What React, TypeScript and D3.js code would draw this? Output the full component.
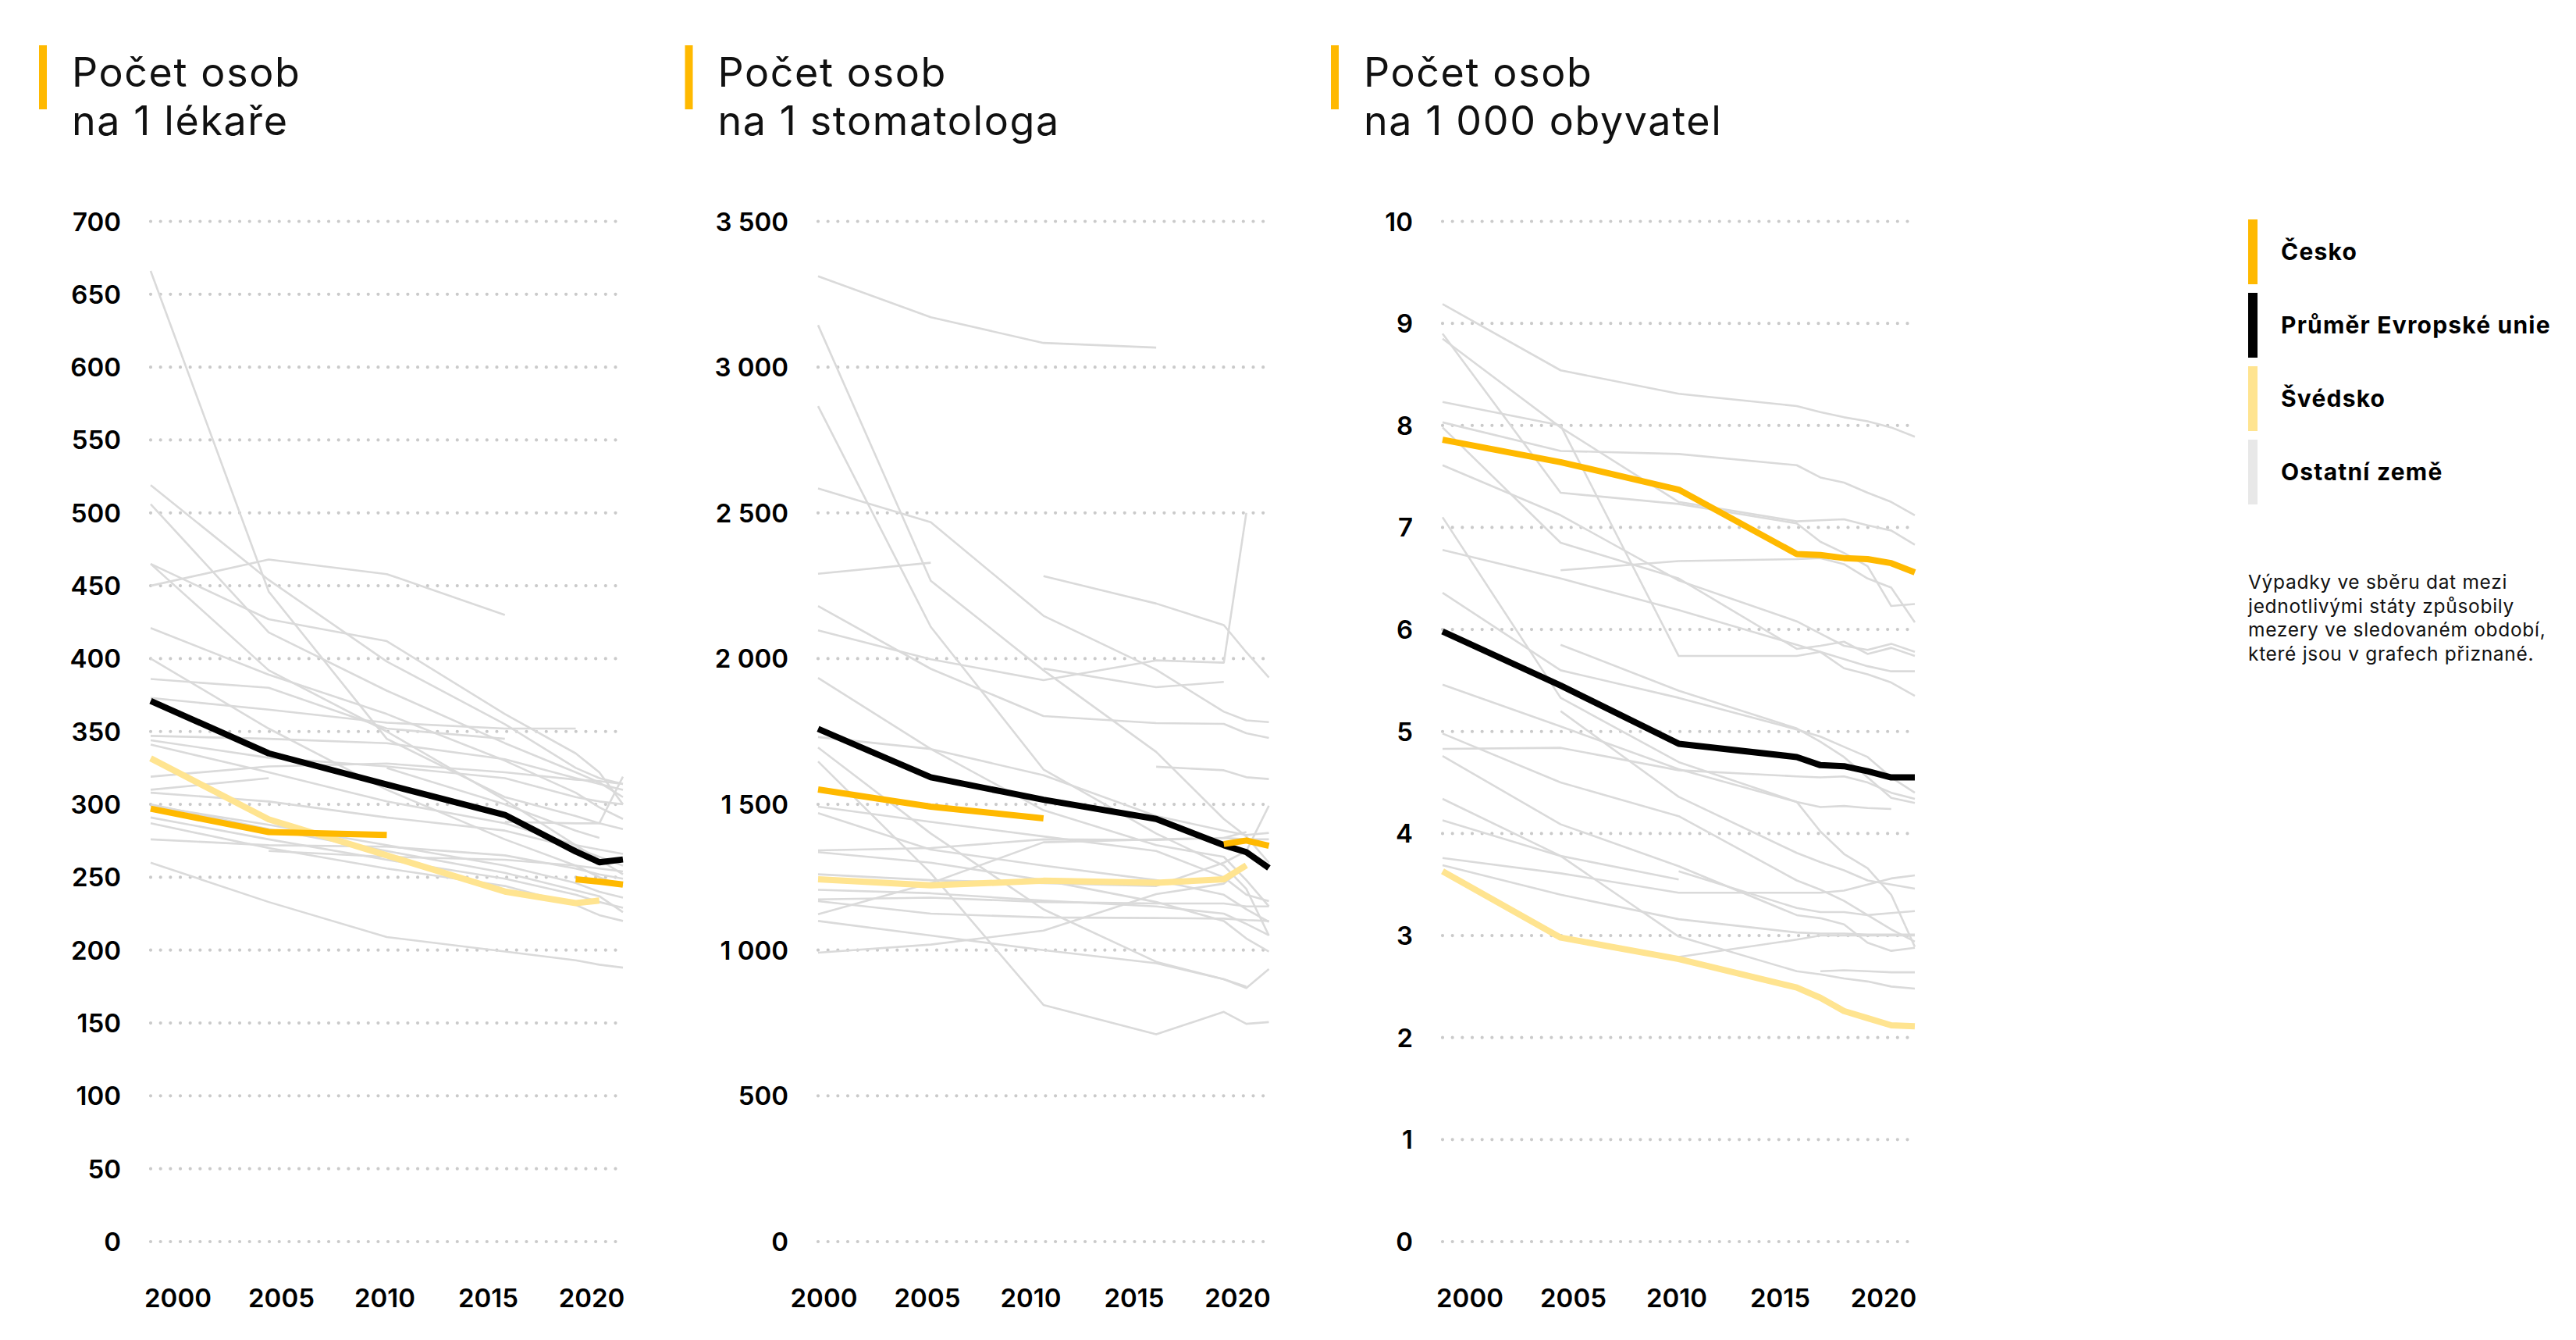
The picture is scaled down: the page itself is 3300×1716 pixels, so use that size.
import React from "react";
import * as d3 from "d3";

// ---------- DATA ----------
const YEARS = [2000, 2005, 2010, 2015, 2018, 2019, 2020];
const YEARS_BEDS = [2000, 2005, 2010, 2015, 2016, 2017, 2018, 2019, 2020];
const X_TICK_LABELS = ["2000", "2005", "2010", "2015", "2020"];

const DOCTOR_TICKS = [0, 50, 100, 150, 200, 250, 300, 350, 400, 450, 500, 550, 600, 650, 700];
const DENTIST_TICKS = [0, 500, 1000, 1500, 2000, 2500, 3000, 3500];
const BEDS_TICKS = [0, 1, 2, 3, 4, 5, 6, 7, 8, 9, 10];

const DOCTORS_CZ = [297, 281, 279, null, 248.6, 247, 245];
const DOCTORS_EU = [371, 335, 313.6, 292.8, 267.7, 260.3, 262.2];
const DOCTORS_SE = [331.6, 289.7, 265, 240.2, 232.3, 234, null];
const DOCTORS_OTHERS = [
  [666, 446, 345, 305, 292, 287, 283],
  [519, 454, 398, 355, 325, 318, 314],
  [506, 418, 378, 342, 322, 315, 305],
  [465, 427, 412, 362, 335, 322, 300],
  [450, 468, 458, 430, null, null, null],
  [465, 392, 350, 303, 272, 262, 252],
  [421, 389, 362, 330, 308, 298, 290],
  [400, 352, 310, 276, 258, 250, 244],
  [386, 380, 352, 345, null, null, null],
  [373, 365, 356, 352, 352, null, null],
  [347, 345, 342, 331, 318, 314, 310],
  [344, 332, 326, 318, 305, 302, 300],
  [341, 322, 302, 287, 272, 269, 266],
  [319, 326, 328, 322, 317, 316, 314],
  [310, 318, null, null, null, null, null],
  [308, 302, 291, 282, 270, 264, 258],
  [291, 276, 262, 249, 238, 233, 229],
  [287, 270, 256, 244, 231, 224, 220],
  [276, 272, 271, 265, 256, 252, 249],
  [260, 233, 209, 199, 193, 190, 188],
  [null, null, 325, 300, 282, 277, null],
  [null, null, null, 288, 287, 287, 319],
  [300, 283, 268, 253, 241, 237, 226],
  [null, 268, 264, 262, 258, 256, 254],
  [299, 286, 272, 258, 246, 240, 236],
];

const DENTISTS_CZ = [1551, 1492, 1452, null, 1364, 1376, 1358];
const DENTISTS_EU = [1759, 1593, 1516, 1450, 1360, 1336, 1282];
const DENTISTS_SE = [1243, 1222, 1238, 1231, 1243, 1291, null];
const DENTISTS_OTHERS = [
  [3312, 3171, 3083, 3067, null, null, null],
  [3144, 2267, 1960, 1680, 1450, 1390, 1300],
  [2866, 2109, 1620, 1400, 1290, 1210, 1050],
  [2584, 2468, 2147, 1962, 1818, 1788, 1782],
  [2291, 2329, null, null, null, null, null],
  [null, null, 2283, 2189, 2115, 2022, 1935],
  [2180, 1965, 1803, 1779, 1776, 1744, 1728],
  [2097, 1998, 1926, 1994, 1986, 2500, null],
  [null, null, 1966, 1902, 1920, null, null],
  [1934, 1690, 1480, 1360, 1320, 1240, 1150],
  [1731, 1690, 1600, 1460, 1410, 1395, 1402],
  [1695, 1400, 1140, 960, 900, 870, 935],
  [1647, 1264, 812, 711, 788, 747, 753],
  [1492, 1440, 1390, 1340, 1250, 1190, 1168],
  [1470, 1345, 1290, 1240, 1190, 1140, 1097],
  [1342, 1350, 1380, 1378, 1385, 1405, null],
  [1336, 1300, 1240, 1165, 1100, 1040, 995],
  [1207, 1195, 1170, 1150, 1125, 1090, 1051],
  [1174, 1180, 1165, 1160, 1160, 1150, 1150],
  [1168, 1125, 1112, 1110, 1108, 1103, 1100],
  [991, 1019, 1067, 1192, 1228, 1290, null],
  [1123, 1230, 1370, 1380, 1385, 1380, 1380],
  [null, null, null, 1629, 1617, 1593, 1587],
  [1100, 1050, 1000, 955, 900, 875, null],
  [1260, 1240, 1230, 1220, 1300, 1340, 1495],
];

const BEDS_CZ = [7.86, 7.64, 7.37, 6.74, 6.73, 6.7, 6.69, 6.65, 6.56];
const BEDS_EU = [5.98, 5.45, 4.88, 4.75, 4.67, 4.66, 4.61, 4.55, 4.55];
const BEDS_SE = [3.63, 2.98, 2.77, 2.49, 2.39, 2.26, 2.19, 2.12, 2.11];
const BEDS_OTHERS = [
  [9.19, 8.54, 8.31, 8.19, 8.13, 8.08, 8.04, 7.98, 7.89],
  [8.9, 7.34, 7.23, 7.04, 6.86, 6.75, 6.62, 6.23, 6.25],
  [8.85, 7.98, 7.25, 7.06, 7.07, 7.08, 7.02, 6.97, 6.83],
  [8.03, 7.75, 7.72, 7.61, 7.49, 7.44, 7.34, 7.25, 7.12],
  [8.23, 8.0, 5.74, 5.74, 5.78, 5.62, 5.56, 5.48, 5.35],
  [7.98, 6.85, 6.5, 5.81, 5.84, 5.88, 5.76, 5.82, 5.74],
  [7.61, 7.12, 6.48, 6.08, 5.96, 5.84, 5.8, 5.86, 5.78],
  [null, 6.58, 6.67, 6.69, 6.7, 6.64, 6.5, 6.41, 6.07],
  [6.78, 6.5, 6.19, 5.85, 5.78, 5.71, 5.64, 5.59, 5.59],
  [7.1, 5.33, 4.7, 4.31, 4.02, 3.8, 3.66, 3.4, 2.89],
  [6.36, 5.6, 5.33, 5.02, 4.95, 4.85, 4.75, 4.55, 4.4],
  [null, 5.85, 5.4, 5.03, 4.9, 4.75, 4.55, 4.35, 4.3],
  [5.46, 5.05, 4.63, 4.31, 4.26, 4.27, 4.25, 4.24, null],
  [4.98, 4.5, 4.17, 3.54, 3.45, 3.34, 3.2, 3.06, 2.94],
  [4.83, 4.84, 4.62, 4.56, 4.55, 4.56, 4.5, 4.4, 4.34],
  [4.76, 4.09, 3.68, 3.2, 3.17, 3.11, 2.93, 2.85, 2.88],
  [4.34, 3.78, 2.99, 2.65, 2.62, 2.58, 2.55, 2.5, 2.48],
  [4.13, 3.78, 3.55, null, null, null, null, null, null],
  [3.76, 3.61, 3.42, 3.42, 3.42, 3.44, 3.5, 3.56, 3.59],
  [3.69, 3.4, 3.16, 3.03, 3.02, 3.02, 3.01, 3.01, 3.01],
  [null, null, 2.79, 2.96, 3.0, 3.0, 3.0, 3.0, 3.0],
  [null, null, null, null, 2.65, 2.66, 2.65, 2.64, 2.64],
  [null, null, 3.63, 3.27, 3.23, 3.23, 3.2, 3.22, 3.24],
  [null, 5.2, 4.36, 3.81, 3.72, 3.64, 3.54, 3.5, 3.46],
];

const TITLES_LINE1 = ["Počet osob", "Počet osob", "Počet osob"];
const TITLES_LINE2 = ["na 1 lékaře", "na 1 stomatologa", "na 1 000 obyvatel"];

const LEGEND_LABELS = ["Česko", "Průměr Evropské unie", "Švédsko", "Ostatní země"];
const NOTE_LINES = [
  "Výpadky ve sběru dat mezi",
  "jednotlivými státy způsobily",
  "mezery ve sledovaném období,",
  "které jsou v grafech přiznané.",
];

// ---------- STYLE ----------
const C_CZ = "#FFB900";
const C_EU = "#000000";
const C_SE = "#FFE490";
const C_OTHER = "#DADADA";
const C_LEGEND_OTHER = "#E8E8E8";
const C_GRID = "#CACACA";
const FONT = "Inter, 'Noto Sans', sans-serif";

const fmtSpace = d3.formatLocale({ decimal: ",", thousands: "\u00a0", grouping: [3], currency: ["", ""] }).format(",d");

const PANEL_STEP = 827.5;
const Y_TOP = 283.5;
const Y_BOTTOM = 1590;

type PanelCfg = {
  years: number[];
  ticks: number[];
  max: number;
  cz: (number | null)[];
  eu: (number | null)[];
  se: (number | null)[];
  others: (number | null)[][];
  plotX0: number;
  fmt: (v: number) => string;
};

const PANELS: PanelCfg[] = [
  { years: YEARS, ticks: DOCTOR_TICKS, max: 700, cz: DOCTORS_CZ, eu: DOCTORS_EU, se: DOCTORS_SE, others: DOCTORS_OTHERS, plotX0: 193, fmt: (v) => String(v) },
  { years: YEARS, ticks: DENTIST_TICKS, max: 3500, cz: DENTISTS_CZ, eu: DENTISTS_EU, se: DENTISTS_SE, others: DENTISTS_OTHERS, plotX0: 1048, fmt: (v) => fmtSpace(v) },
  { years: YEARS_BEDS, ticks: BEDS_TICKS, max: 10, cz: BEDS_CZ, eu: BEDS_EU, se: BEDS_SE, others: BEDS_OTHERS, plotX0: 1848, fmt: (v) => String(v) },
];

function Panel({ cfg, index }: { cfg: PanelCfg; index: number }) {
  const ox = PANEL_STEP * index;
  const plotX1 = 798 + ox;
  const x = d3.scaleLinear().domain([2000, 2020]).range([cfg.plotX0, plotX1]);
  const y = d3.scaleLinear().domain([0, cfg.max]).range([Y_BOTTOM, Y_TOP]);
  const line = d3
    .line<[number, number | null]>()
    .defined((d) => d[1] != null)
    .x((d) => x(d[0]))
    .y((d) => y(d[1] as number));
  const path = (vals: (number | null)[]) => line(cfg.years.map((yr, i) => [yr, vals[i]] as [number, number | null])) || "";

  const labelRight = cfg.plotX0 - 38;
  const rowEnd = plotX1 + 1;
  const rowStart = rowEnd - 612;
  const labW = 82;
  const xl = d3.scalePoint<string>().domain(X_TICK_LABELS).range([rowStart + labW / 2, rowEnd - labW / 2]);

  return (
    <g>
      <rect x={50 + ox} y={58} width={10} height={82} fill={C_CZ} />
      <text x={92 + ox} y={111} fontFamily={FONT} fontSize={52} fontWeight={400} letterSpacing={1.6} fill="#111">
        {TITLES_LINE1[index]}
      </text>
      <text x={92 + ox} y={172.5} fontFamily={FONT} fontSize={52} fontWeight={400} letterSpacing={1.6} fill="#111">
        {TITLES_LINE2[index]}
      </text>
      {cfg.ticks.map((t) => (
        <g key={t}>
          <line
            x1={cfg.plotX0}
            x2={plotX1}
            y1={y(t)}
            y2={y(t)}
            stroke={C_GRID}
            strokeWidth={4.2}
            strokeLinecap="round"
            strokeDasharray="0 12.67"
          />
          <text
            x={labelRight}
            y={y(t)}
            textAnchor="end"
            dominantBaseline="central"
            fontFamily={FONT}
            fontSize={33}
            fontWeight={600}
            fill="#000"
          >
            {cfg.fmt(t)}
          </text>
        </g>
      ))}
      {X_TICK_LABELS.map((l) => (
        <text
          key={l}
          x={xl(l)}
          y={1662}
          textAnchor="middle"
          dominantBaseline="central"
          fontFamily={FONT}
          fontSize={33}
          fontWeight={600}
          fill="#000"
        >
          {l}
        </text>
      ))}
      {cfg.others.map((vals, i) => (
        <path key={i} d={path(vals)} fill="none" stroke={C_OTHER} strokeWidth={2.6} strokeLinejoin="round" />
      ))}
      <path d={path(cfg.se)} fill="none" stroke={C_SE} strokeWidth={8} strokeLinejoin="round" />
      <path d={path(cfg.eu)} fill="none" stroke={C_EU} strokeWidth={8} strokeLinejoin="round" />
      <path d={path(cfg.cz)} fill="none" stroke={C_CZ} strokeWidth={8} strokeLinejoin="round" />
    </g>
  );
}

export default function App() {
  const legendColors = [C_CZ, C_EU, C_SE, C_LEGEND_OTHER];
  return (
    <svg
      width={3300}
      height={1716}
      viewBox="0 0 3300 1716"
      style={{ position: "absolute", left: 0, top: 0, display: "block", background: "#fff" }}
    >
      <rect x={0} y={0} width={3300} height={1716} fill="#fff" />
      {PANELS.map((p, i) => (
        <Panel key={i} cfg={p} index={i} />
      ))}
      {LEGEND_LABELS.map((l, i) => (
        <g key={l}>
          <rect x={2880} y={281 + i * 94} width={12} height={83} fill={legendColors[i]} />
          <text
            x={2922}
            y={281 + i * 94 + 41}
            dominantBaseline="central"
            fontFamily={FONT}
            fontSize={30}
            fontWeight={700}
            letterSpacing={1.2}
            fill="#000"
          >
            {l}
          </text>
        </g>
      ))}
      {NOTE_LINES.map((l, i) => (
        <text
          key={i}
          x={2880}
          y={754 + i * 30.5}
          fontFamily={FONT}
          fontSize={24.5}
          fontWeight={400}
          letterSpacing={0.7}
          fill="#111"
        >
          {l}
        </text>
      ))}
    </svg>
  );
}
